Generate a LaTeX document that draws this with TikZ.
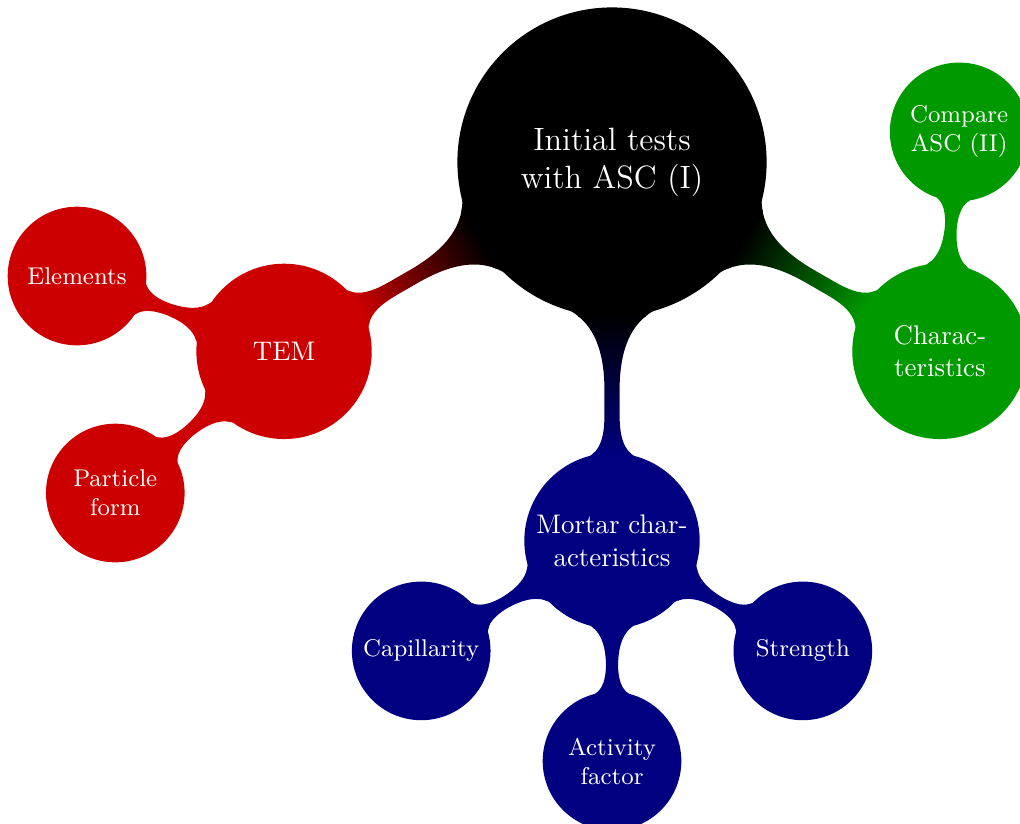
\documentclass[tikz,border=0pt]{standalone}
\usepackage{fontspec}
\usetikzlibrary{mindmap,calc}
\definecolor{cred}{RGB}{204,0,0}
\definecolor{cgreen}{RGB}{0,153,0}
\definecolor{cblue}{RGB}{0,0,128}
\begin{document}
\begin{tikzpicture}[mindmap, text=white,
  basec/.style={concept, text width={}, align=center, inner sep=0pt},
  rootc/.style={basec, concept color=black, minimum size=4cm, font=\fontsize{12}{14}\selectfont},
  lvla/.style={basec, minimum size=2.25cm, font=\fontsize{10}{12}\selectfont},
  lvlb/.style={basec, minimum size=1.77cm, font=\fontsize{9}{10.8}\selectfont}]
  \useasboundingbox (-8,-8.641) rectangle (5.333,2.118);
  \node[rootc] (root) at (0,0) {Initial tests\\with ASC (I)};
  \node[lvla, concept color=cred] (tem) at (210:4.95) {TEM};
  \node[lvla, concept color=cblue] (mortar) at (270:4.95) {Mortar char-\\acteristics};
  \node[lvla, concept color=cgreen] (char) at (330:4.95) {Charac-\\teristics};
  \node[lvlb, concept color=cred] (elem) at ($(tem)+(160:2.88)$) {Elements};
  \node[lvlb, concept color=cred] (part) at ($(tem)+(220:2.88)$) {Particle\\form};
  \node[lvlb, concept color=cgreen] (comp) at ($(char)+(85:2.88)$) {Compare\\ASC (II)};
  \node[lvlb, concept color=cblue] (cap) at ($(mortar)+(210:2.88)$) {Capillarity};
  \node[lvlb, concept color=cblue] (act) at ($(mortar)+(270:2.88)$) {Activity\\factor};
  \node[lvlb, concept color=cblue] (str) at ($(mortar)+(330:2.88)$) {Strength};
  \path (root) to[circle connection bar switch color=from (black) to (cred)] (tem);
  \path (root) to[circle connection bar switch color=from (black) to (cblue)] (mortar);
  \path (root) to[circle connection bar switch color=from (black) to (cgreen)] (char);
  \path (tem) to[circle connection bar switch color=from (cred) to (cred)] (elem);
  \path (tem) to[circle connection bar switch color=from (cred) to (cred)] (part);
  \path (char) to[circle connection bar switch color=from (cgreen) to (cgreen)] (comp);
  \path (mortar) to[circle connection bar switch color=from (cblue) to (cblue)] (cap);
  \path (mortar) to[circle connection bar switch color=from (cblue) to (cblue)] (act);
  \path (mortar) to[circle connection bar switch color=from (cblue) to (cblue)] (str);
\end{tikzpicture}
\end{document}
